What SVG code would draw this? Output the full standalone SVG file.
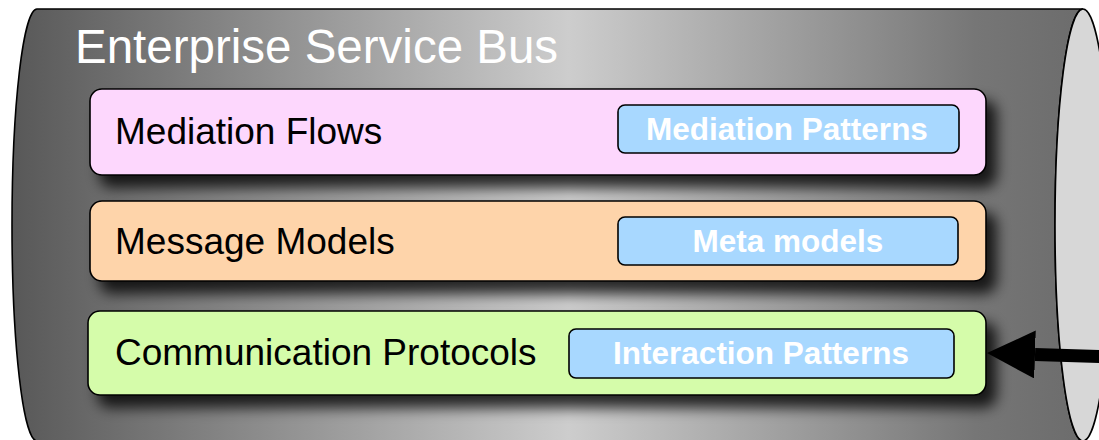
<svg xmlns="http://www.w3.org/2000/svg" width="1099" height="440" viewBox="0 0 1099 440">
  <defs>
    <linearGradient id="busShade" gradientUnits="userSpaceOnUse" x1="12" y1="0" x2="1083" y2="0">
      <stop offset="0" stop-color="#585858"/>
      <stop offset="0.52" stop-color="#cdcdcd"/>
      <stop offset="0.9" stop-color="#767676"/>
      <stop offset="1" stop-color="#6c6c6c"/>
    </linearGradient>
    <filter id="dropShadow" x="-5%" y="-40%" width="115%" height="190%">
      <feDropShadow dx="10" dy="12" stdDeviation="7" flood-color="#000" flood-opacity="0.8"/>
    </filter>
    <marker id="arrowHead" markerUnits="userSpaceOnUse" viewBox="0 0 48 48" refX="0" refY="24" markerWidth="48" markerHeight="48" orient="auto">
      <path d="M0,0 L48,24 L0,48 Z" fill="#000"/>
    </marker>
  </defs>
  <style>
    .layer { stroke: #000; stroke-width: 1.6; }
    .pattern { fill: #a8d8ff; stroke: #000; stroke-width: 1.6; }
    .layerText { font-family: "Liberation Sans", Arial, sans-serif; font-size: 37px; fill: #000; }
    .patternText { font-family: "Liberation Sans", Arial, sans-serif; font-size: 31.5px; font-weight: bold; fill: #fff; text-anchor: middle; }
    .title { font-family: "Liberation Sans", Arial, sans-serif; font-size: 47.5px; fill: #fff; }
  </style>

  <!-- the bus drawn as a cylinder lying on its side -->
  <g id="bus">
    <path d="M37,9 L1083,9 A28,216 0 0,0 1083,441 L37,441 A25,216 0 0,1 37,9 Z" fill="url(#busShade)" stroke="#000" stroke-width="1.6"/>
    <ellipse cx="1083" cy="225" rx="28" ry="216" fill="#d7d7d7" stroke="#000" stroke-width="1.6"/>
    <text class="title" x="75" y="63">Enterprise Service Bus</text>
  </g>

  <g id="mediation-flows">
    <rect class="layer" x="90" y="89" width="896" height="86" rx="12" fill="#fdd7fd" filter="url(#dropShadow)"/>
    <text class="layerText" x="115" y="144">Mediation Flows</text>
  </g>
  <g id="mediation-patterns">
    <rect class="pattern" x="618" y="105" width="341" height="48" rx="7"/>
    <text class="patternText" x="787" y="140">Mediation Patterns</text>
  </g>

  <g id="message-models">
    <rect class="layer" x="90" y="201" width="896" height="80" rx="12" fill="#fed4aa" filter="url(#dropShadow)"/>
    <text class="layerText" x="115" y="254">Message Models</text>
  </g>
  <g id="meta-models">
    <rect class="pattern" x="618" y="217" width="340" height="48" rx="7"/>
    <text class="patternText" x="788" y="252">Meta models</text>
  </g>

  <g id="communication-protocols">
    <rect class="layer" x="88" y="311" width="898" height="84" rx="12" fill="#d5fcaa" filter="url(#dropShadow)"/>
    <text class="layerText" x="115" y="365">Communication Protocols</text>
  </g>
  <g id="interaction-patterns">
    <rect class="pattern" x="569" y="329" width="385" height="49" rx="7"/>
    <text class="patternText" x="761" y="364">Interaction Patterns</text>
  </g>

  <g id="connectors">
    <path d="M1100,356.5 L1035,354.5" stroke="#000" stroke-width="13" fill="none" marker-end="url(#arrowHead)"/>
  </g>
</svg>
